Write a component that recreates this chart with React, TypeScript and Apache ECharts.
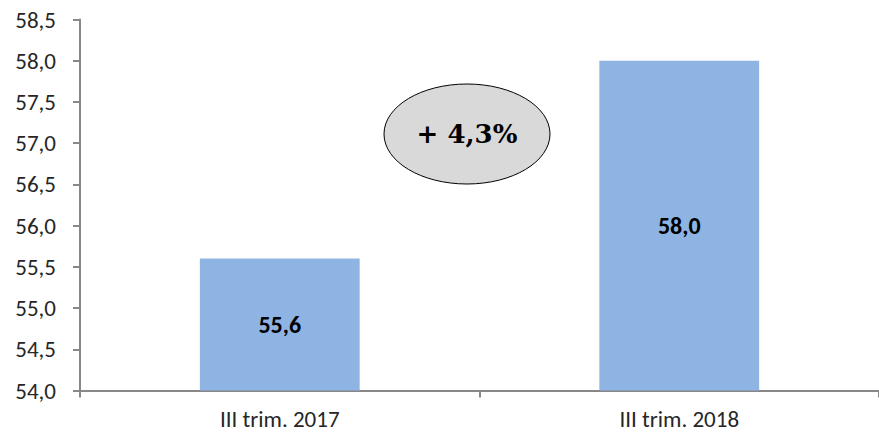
import React, { useEffect, useRef } from "react";
import * as echarts from "echarts";

const categories = ["III trim. 2017", "III trim. 2018"];
const values = [55.6, 58.0];
const changeLabel = "+ 4,3%";
const yMin = 54.0;
const yMax = 58.5;
const yStep = 0.5;

const FONT = "Carlito, 'Open Sans', sans-serif";

export default function App() {
  const ref = useRef<HTMLDivElement>(null);
  useEffect(() => {
    const chart = echarts.init(ref.current!, null, { renderer: "svg" });
    const fmt = (v: number) => v.toFixed(1).replace(".", ",");
    chart.setOption({
      animation: false,
      backgroundColor: "#ffffff",
      grid: { left: 80, right: 0, top: 19.5, bottom: 42.5, containLabel: false },
      xAxis: {
        type: "category",
        data: categories,
        boundaryGap: true,
        axisLine: { lineStyle: { color: "#888888", width: 2 } },
        axisTick: { show: true, length: 7, lineStyle: { color: "#888888", width: 2 } },
        axisLabel: {
          color: "#262626",
          fontSize: 23,
          lineHeight: 23,
          fontFamily: FONT,
          margin: 17,
        },
      },
      yAxis: {
        type: "value",
        min: yMin,
        max: yMax,
        interval: yStep,
        axisLine: { show: true, lineStyle: { color: "#888888", width: 2 } },
        axisTick: { show: true, length: 7, lineStyle: { color: "#888888", width: 2 } },
        splitLine: { show: false },
        axisLabel: {
          color: "#262626",
          fontSize: 23,
          fontFamily: FONT,
          margin: 24,
          formatter: (v: number) => fmt(v),
        },
      },
      series: [
        {
          type: "bar",
          data: values,
          barWidth: "40%",
          itemStyle: { color: "#8EB4E3" },
          label: {
            show: true,
            position: "inside",
            color: "#000000",
            fontWeight: "bold",
            fontSize: 24,
            fontFamily: FONT,
            formatter: (p: any) => fmt(p.value),
          },
        },
      ],
      graphic: [
        {
          type: "ellipse",
          shape: { cx: 467, cy: 134, rx: 83, ry: 50 },
          style: { fill: "#D9D9D9", stroke: "#000000", lineWidth: 1 },
        },
        {
          type: "text",
          x: 467,
          y: 134,
          style: {
            text: changeLabel,
            fill: "#000000",
            font: "bold 26px 'DejaVu Serif'",
            align: "center",
            verticalAlign: "middle",
          },
        },
      ],
    });
    return () => chart.dispose();
  }, []);
  return (
    <div
      ref={ref}
      style={{ position: "fixed", left: 0, top: 0, width: 879, height: 433 }}
    />
  );
}
